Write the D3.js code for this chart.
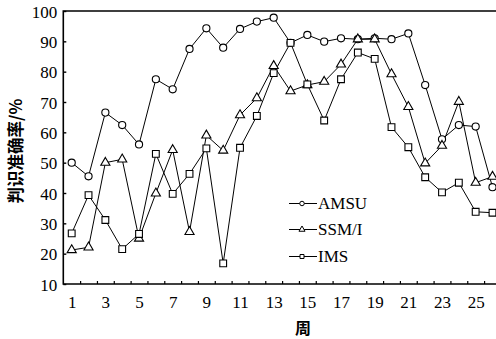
<!DOCTYPE html>
<html>
<head>
<meta charset="utf-8">
<script src="https://cdn.jsdelivr.net/npm/d3@7"></script>
<style>
  body { margin: 0; background: #fff; }
  text { font-family: "Liberation Serif", "DejaVu Serif", serif; fill: #000; }
  .cjk { font-family: "Noto Sans CJK SC", sans-serif; font-weight: bold; }
</style>
</head>
<body>
<div id="chart"></div>
<script>
const weeks = d3.range(1, 27);
const amsu = [50, 45.5, 66.5, 62.4, 56, 77.5, 74.2, 87.5, 94.3, 87.9, 94.1, 96.5, 97.8,
  89.5, 92.1, 89.9, 91, 90.7, 91, 90.7, 92.6, 75.6, 57.7, 62.4, 61.9, 41.9];
const ssmi = [21.2, 22.1, 50, 51.1, 25, 39.9, 54.2, 27.2, 59, 54, 65.7, 71.3, 81.9,
  73.6, 75.6, 76.7, 82.4, 90.7, 90.7, 79.2, 68.4, 49.8, 55.6, 70.1, 43.4, 45.4];
const ims = [26.7, 39.3, 31.1, 21.5, 26.5, 52.9, 39.7, 46.3, 54.7, 16.8, 54.9, 65.4, 79.5,
  89.5, 75.8, 63.9, 77.5, 86.3, 84.2, 61.7, 55.1, 45.2, 40.2, 43.4, 33.8, 33.5];
const yTicks = d3.range(10, 101, 10);
const xLabels = d3.range(1, 27, 2);
const xMinor = d3.range(1.5, 26, 1);
const seriesNames = ["AMSU", "SSM/I", "IMS"];

const width = 496, height = 339;
const mLeft = 63.3, mRight = 496, mTop = 11, mBottom = 284;

const svg = d3.select("#chart").append("svg")
  .attr("width", width)
  .attr("height", height);

const x = d3.scaleLinear().domain([1, 26]).range([71.7, 492.5]);
const y = d3.scaleLinear().domain([10, 100]).range([mBottom, mTop]);

// frame
svg.append("path")
  .attr("d", `M${mRight},${mTop}H${mLeft}V${mBottom}H${mRight}`)
  .attr("fill", "none")
  .attr("stroke", "#000")
  .attr("stroke-width", 1.6);

const yAxis = svg.append("g")
  .attr("transform", `translate(${mLeft},0)`)
  .call(d3.axisLeft(y).tickValues(yTicks).tickSize(-3).tickPadding(6))
  .call(g => g.select(".domain").remove());
yAxis.selectAll("text").style("font-size", "17px").attr("dy", "0.36em");
yAxis.selectAll("line").attr("stroke-width", 1.4);

const xAxis = svg.append("g")
  .attr("transform", `translate(0,${mBottom})`)
  .call(d3.axisBottom(x).tickValues(xLabels).tickSize(0).tickPadding(12))
  .call(g => g.select(".domain").remove());
xAxis.selectAll("text").style("font-size", "17px");

svg.append("g")
  .attr("transform", `translate(0,${mBottom})`)
  .call(d3.axisBottom(x).tickValues(xMinor).tickSize(-3).tickFormat(""))
  .call(g => g.select(".domain").remove())
  .selectAll("line").attr("stroke-width", 1.2);

svg.append("text")
  .attr("class", "cjk")
  .attr("x", 303).attr("y", 334)
  .attr("text-anchor", "middle")
  .style("font-size", "16px")
  .text("周");

svg.append("text")
  .attr("class", "cjk")
  .attr("transform", "translate(22,151) rotate(-90)")
  .attr("text-anchor", "middle")
  .style("font-size", "16.5px")
  .text("判识准确率/%");

const line = d3.line().x((d, i) => x(weeks[i])).y(d => y(d));
const data = [amsu, ssmi, ims];
const shapes = [d3.symbolCircle, d3.symbolTriangle, d3.symbolSquare];
const sizes = [40, 36, 46];

data.forEach(vals => {
  svg.append("path")
    .datum(vals)
    .attr("fill", "none")
    .attr("stroke", "#000")
    .attr("stroke-width", 1)
    .attr("d", line);
});

data.forEach((vals, k) => {
  svg.append("g").selectAll("path")
    .data(vals)
    .join("path")
    .attr("transform", (d, i) => `translate(${x(weeks[i])},${y(d)})`)
    .attr("d", d3.symbol(shapes[k], sizes[k]))
    .attr("fill", "#fff")
    .attr("stroke", "#000")
    .attr("stroke-width", 1.1);
});

// legend
const legendY = [203.5, 229.5, 256.5];
const lg = svg.append("g");
seriesNames.forEach((name, k) => {
  lg.append("line")
    .attr("x1", 289).attr("x2", 317)
    .attr("y1", legendY[k]).attr("y2", legendY[k])
    .attr("stroke", "#000").attr("stroke-width", 1);
  lg.append("path")
    .attr("transform", `translate(302,${legendY[k]})`)
    .attr("d", d3.symbol(shapes[k], 16))
    .attr("fill", "#fff").attr("stroke", "#000");
  lg.append("text")
    .attr("x", 318).attr("y", legendY[k])
    .attr("dy", "0.35em")
    .style("font-size", "17px")
    .text(name);
});
</script>
</body>
</html>
